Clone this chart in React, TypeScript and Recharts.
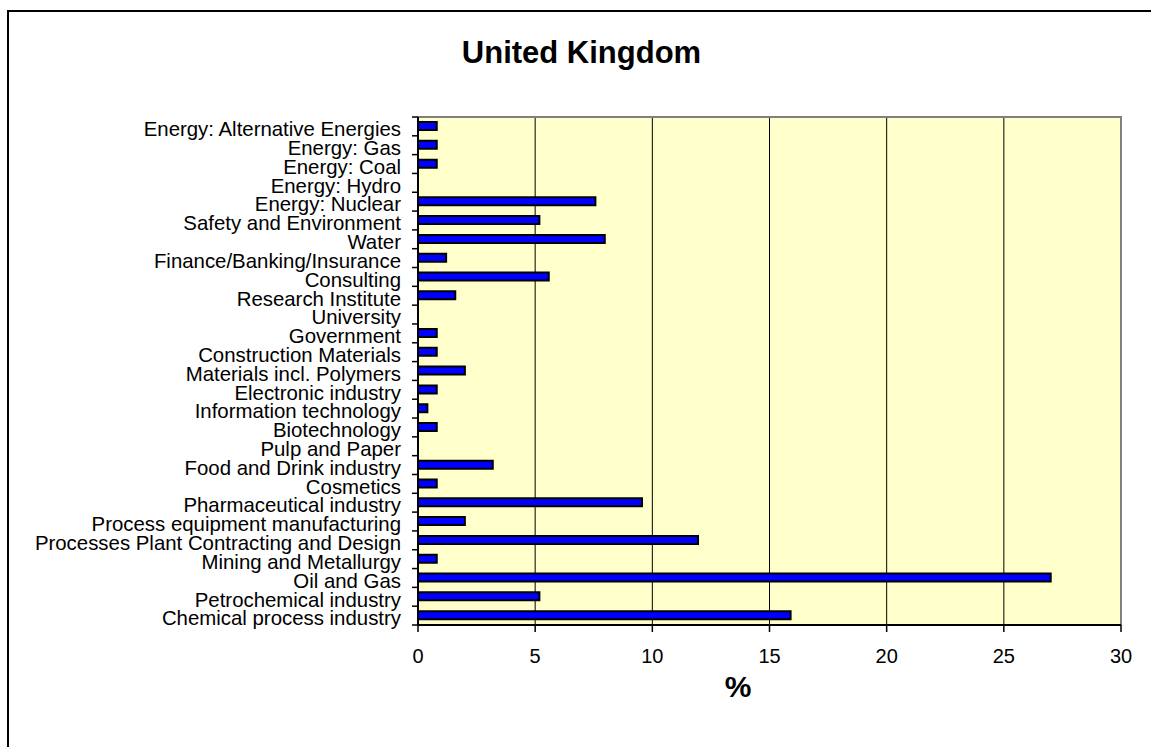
import React from "react";
import {
  BarChart,
  Bar,
  XAxis,
  YAxis,
  CartesianGrid,
  ReferenceArea,
} from "recharts";

// categories listed top to bottom as they appear in the chart
const sectors = [
  "Energy: Alternative Energies",
  "Energy: Gas",
  "Energy: Coal",
  "Energy: Hydro",
  "Energy: Nuclear",
  "Safety and Environment",
  "Water",
  "Finance/Banking/Insurance",
  "Consulting",
  "Research Institute",
  "University",
  "Government",
  "Construction Materials",
  "Materials incl. Polymers",
  "Electronic industry",
  "Information technology",
  "Biotechnology",
  "Pulp and Paper",
  "Food and Drink industry",
  "Cosmetics",
  "Pharmaceutical industry",
  "Process equipment manufacturing",
  "Processes Plant Contracting and Design",
  "Mining and Metallurgy",
  "Oil and Gas",
  "Petrochemical industry",
  "Chemical process industry",
];

const shares = [
  0.8, 0.8, 0.8, 0, 7.57, 5.18, 7.97, 1.2, 5.58, 1.59, 0, 0.8, 0.8, 2.0, 0.8,
  0.4, 0.8, 0, 3.19, 0.8, 9.56, 2.0, 11.95, 0.8, 27.0, 5.18, 15.9,
];

const xTicks = [0, 5, 10, 15, 20, 25, 30];

const data = sectors.map((name, i) => ({ name, value: shares[i] }));

const FONT = "'Liberation Sans', Arial, sans-serif";
const TICK_SIZE = 6;
const TICK_MARGIN = 11;

function SectorTick(props: any) {
  const { x, y, payload, index, visibleTicksCount } = props;
  const half = payload.offset || 0;
  const axisX = x + TICK_SIZE + TICK_MARGIN;
  return (
    <g>
      <line x1={axisX - TICK_SIZE} x2={axisX} y1={y - half} y2={y - half} stroke="#000" strokeWidth={1.5} />
      {index === visibleTicksCount - 1 && (
        <line x1={axisX - TICK_SIZE} x2={axisX} y1={y + half} y2={y + half} stroke="#000" strokeWidth={1.5} />
      )}
      <text x={x} y={y} dy="0.48em" textAnchor="end" fontSize={20.4} fontFamily={FONT} fill="#000">
        {payload.value}
      </text>
    </g>
  );
}

export default function App() {
  return (
    <div style={{ position: "absolute", left: 0, top: 0, width: 1151, height: 747, overflow: "hidden", background: "#fff" }}>
      <div style={{ position: "absolute", left: 7, top: 10, width: 1170, height: 770, border: "2px solid #000", boxSizing: "border-box" }} />
      <div style={{ position: "absolute", left: 0, top: 0 }}>
        <BarChart
          width={1151}
          height={747}
          data={data}
          layout="vertical"
          margin={{ top: 117, right: 30, bottom: 42, left: 0 }}
          barSize={8}
        >
          <CartesianGrid horizontal={false} vertical stroke="#000" strokeWidth={1} fill="#FFFFCC" />
          <ReferenceArea x1={0} x2={30} fill="none" stroke="#808080" strokeWidth={2} ifOverflow="visible" />
          <XAxis
            type="number"
            domain={[0, 30]}
            ticks={xTicks}
            height={80}
            axisLine={{ stroke: "#000", strokeWidth: 2 }}
            tickLine={{ stroke: "#000", strokeWidth: 1.5 }}
            tickSize={7}
            tickMargin={17}
            tick={{ fontSize: 20, fontFamily: FONT, fill: "#000" }}
          />
          <YAxis
            type="category"
            dataKey="name"
            width={418}
            interval={0}
            axisLine={{ stroke: "#000", strokeWidth: 2 }}
            tickLine={false}
            tickSize={TICK_SIZE}
            tickMargin={TICK_MARGIN}
            tick={<SectorTick />}
          />
          <Bar dataKey="value" fill="#0000FF" stroke="#000" strokeWidth={2} isAnimationActive={false} />
        </BarChart>
      </div>
      <svg style={{ position: "absolute", left: 0, top: 0, pointerEvents: "none" }} width={1151} height={747}>
        <text x={581.5} y={63} textAnchor="middle" fontSize={31} fontWeight="bold" fontFamily={FONT} fill="#000">
          United Kingdom
        </text>
        <text x={738} y={697} textAnchor="middle" fontSize={30} fontWeight="bold" fontFamily={FONT} fill="#000">
          %
        </text>
      </svg>
    </div>
  );
}
